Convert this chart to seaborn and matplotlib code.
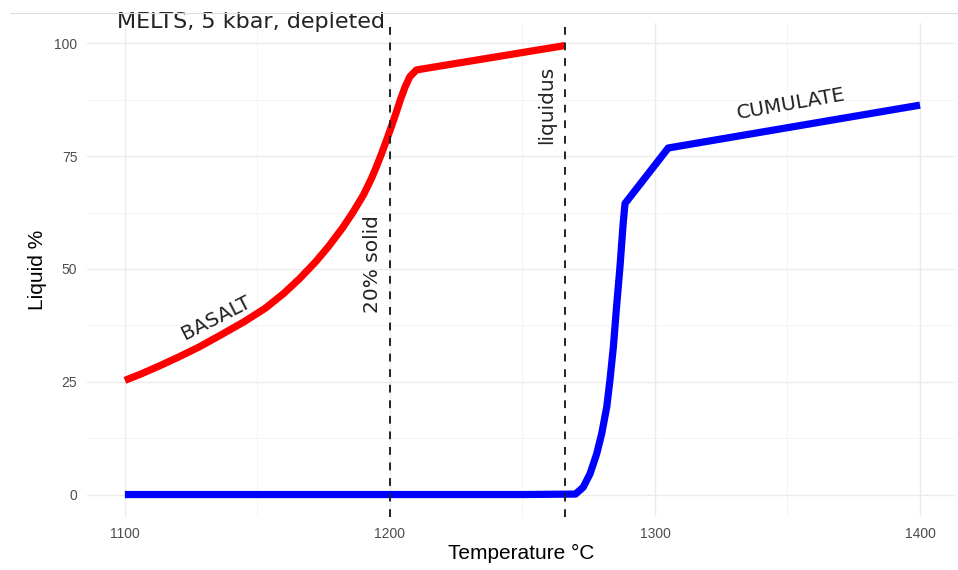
import matplotlib
matplotlib.use("Agg")
import matplotlib.pyplot as plt
from matplotlib.lines import Line2D
from matplotlib.ticker import MultipleLocator
import seaborn as sns
import pandas as pd

# ---- data ----
basalt_T = [1100, 1106, 1113, 1120, 1128, 1136, 1145, 1153, 1160, 1166, 1172, 1177, 1182, 1186,
            1190, 1193, 1195, 1197, 1199, 1201, 1202.5, 1204, 1205.7, 1207.5, 1210, 1266]
basalt_L = [25.3, 26.7, 28.5, 30.4, 32.7, 35.3, 38.3, 41.3, 44.6, 47.9, 51.6, 55.1, 59.0, 62.5,
            66.4, 70.0, 72.8, 75.8, 79.0, 82.3, 84.9, 87.6, 90.3, 92.6, 94.1, 99.5]

cumulate_T = [1100, 1150, 1200, 1250, 1270, 1272.9, 1275.5, 1278, 1279.9, 1281.8, 1283.0, 1284.3,
              1285.5, 1286.8, 1288.0, 1288.7, 1305, 1400]
cumulate_L = [0, 0, 0, 0, 0.1, 1.6, 4.6, 9.0, 13.5, 19.4, 25.3, 32.7,
              41.6, 50.5, 60.1, 64.5, 76.8, 86.3]

vlines_T = [1200, 1266]
vline_labels = ["20% solid", "liquidus"]
x_ticks = [1100, 1200, 1300, 1400]
y_ticks = [0, 25, 50, 75, 100]

df = pd.concat([
    pd.DataFrame({"T": basalt_T, "L": basalt_L, "rock": "BASALT"}),
    pd.DataFrame({"T": cumulate_T, "L": cumulate_L, "rock": "CUMULATE"}),
])

sns.set_style("white")
plt.rcParams['font.family'] = ['DejaVu Sans']

fig = plt.figure(figsize=(9.58, 5.70), dpi=100)
ax = fig.add_axes([87/958, 1-517/570, (955-87)/958, (517-23)/570])

sns.lineplot(data=df, x="T", y="L", hue="rock", palette={"BASALT": "#FF0000", "CUMULATE": "#0000FF"},
             linewidth=5.2, legend=False, ax=ax, sort=False, estimator=None, zorder=3)
for ln in ax.get_lines():
    ln.set_solid_joinstyle("round")
    ln.set_solid_capstyle("butt")

for t in vlines_T:
    ax.axvline(t, color="#222222", linestyle=(0, (4, 4)), linewidth=1.4, zorder=4)

ax.set_xlim(1085.7, 1413.2)
ax.set_ylim(-4.98, 104.5)
ax.set_xticks(x_ticks)
ax.set_yticks(y_ticks)
ax.xaxis.set_minor_locator(MultipleLocator(50))
ax.yaxis.set_minor_locator(MultipleLocator(12.5))
ax.grid(True, which="major", color="#EBEBEB", linewidth=1.0, zorder=0)
ax.grid(True, which="minor", color="#F3F3F3", linewidth=0.6, zorder=0)
ax.set_axisbelow(True)
for s in ax.spines.values():
    s.set_visible(False)
ax.tick_params(axis="both", which="both", length=0, labelsize=10, labelcolor="#4D4D4D", pad=7)
for lab in ax.get_xticklabels() + ax.get_yticklabels():
    lab.set_family(["Liberation Sans Narrow", "Liberation Sans"])

ax.set_xlabel("Temperature \u00b0C", fontsize=15, color="black", family=["Liberation Sans Narrow", "Liberation Sans"], labelpad=2)
ax.set_ylabel("Liquid %", fontsize=15, color="black", family=["Liberation Sans Narrow", "Liberation Sans"], labelpad=5)

txt = dict(color="#222222", fontsize=14.5, ha="center", va="center")
ax.text(1147.5, 104.7, "MELTS, 5 kbar, depleted", clip_on=False, **{**txt, "fontsize": 16})
ax.text(1134.5, 39.2, "BASALT", rotation=27, **txt)
ax.text(1351.5, 86.5, "CUMULATE", rotation=10, **txt)
ax.text(1193.5, 51, vline_labels[0], rotation=90, **txt)
ax.text(1259, 86.3, vline_labels[1], rotation=90, **txt)

fig.add_artist(Line2D([10/958, 1], [1-12.5/570, 1-12.5/570], color="#DDDDDD", linewidth=0.8))

fig.savefig("out.png", dpi=100)
